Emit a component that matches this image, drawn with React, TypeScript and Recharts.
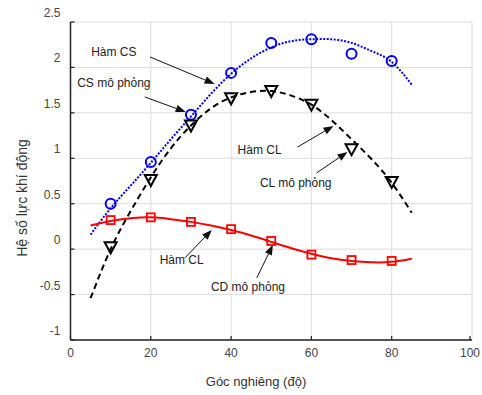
import { ComposedChart, Line, Scatter, XAxis, YAxis, CartesianGrid, ReferenceLine, ReferenceDot } from 'recharts';

const FONT = '"Liberation Sans", Arial, sans-serif';

// góc mô phỏng (điểm) và góc của đường hàm
const simAngles = [10, 20, 30, 40, 50, 60, 70, 80];
const fitAngles = [5, 10, 15, 20, 25, 30, 35, 40, 45, 50, 55, 60, 65, 70, 75, 80, 85];

// số liệu mô phỏng
const csSim = [0.5, 0.96, 1.48, 1.94, 2.27, 2.31, 2.15, 2.07];
const clSim = [0.02, 0.76, 1.36, 1.66, 1.74, 1.59, 1.1, 0.74];
const cdSim = [0.32, 0.35, 0.3, 0.22, 0.09, -0.06, -0.12, -0.13];

// đường hàm
const csFit = [0.16, 0.45, 0.7, 0.95, 1.21, 1.46, 1.71, 1.93, 2.1, 2.22, 2.29, 2.31, 2.31, 2.27, 2.18, 2.06, 1.81];
const clFit = [-0.54, 0.0, 0.42, 0.79, 1.11, 1.36, 1.55, 1.67, 1.73, 1.74, 1.69, 1.59, 1.42, 1.21, 0.99, 0.73, 0.4];
const cdFit = [0.26, 0.31, 0.34, 0.35, 0.33, 0.3, 0.26, 0.21, 0.15, 0.08, 0.01, -0.05, -0.1, -0.13, -0.145, -0.14, -0.105];

const xTicks = [0, 20, 40, 60, 80, 100];
const yTicks = [-1, -0.5, 0, 0.5, 1, 1.5, 2, 2.5];

// chú thích: vị trí chữ và mũi tên (toạ độ dữ liệu)
const notes = [
  { text: 'Hàm CS', x: 10.8, y: 2.17 },
  { text: 'CS mô phỏng', x: 10.8, y: 1.83 },
  { text: 'Hàm CL', x: 47.1, y: 1.09 },
  { text: 'CL mô phỏng', x: 56.1, y: 0.73 },
  { text: 'Hàm CL', x: 27.7, y: -0.12 },
  { text: 'CD mô phỏng', x: 44.2, y: -0.415 },
];
const arrows = [
  { from: [19.8, 2.115], to: [35.9, 1.818] },
  { from: [18.5, 1.675], to: [28.7, 1.51] },
  { from: [56.6, 1.125], to: [65.5, 1.356] },
  { from: [61.3, 0.839], to: [69.0, 1.07] },
  { from: [28.5, -0.096], to: [35.2, 0.212] },
  { from: [46.4, -0.316], to: [50.4, 0.047] },
];

const toPts = (xs: number[], ys: number[]) => xs.map((x, i) => ({ x, y: ys[i] }));

const Circle = (p: any) => <circle cx={p.cx} cy={p.cy} r={5} fill="none" stroke="#0000ff" strokeWidth={2} />;
const Square = (p: any) => <rect x={p.cx - 4} y={p.cy - 4} width={8} height={8} fill="none" stroke="#ff0000" strokeWidth={1.8} />;
const Tri = (p: any) => (
  <polygon
    points={`${p.cx - 6},${p.cy - 5} ${p.cx + 6},${p.cy - 5} ${p.cx},${p.cy + 6}`}
    fill="none"
    stroke="#000"
    strokeWidth={2}
    strokeLinejoin="miter"
  />
);

const Arrow = (p: any) => {
  const { x1, y1, x2, y2 } = p;
  const a = Math.atan2(y2 - y1, x2 - x1);
  const len = 10;
  const w = 3.8;
  const bx = x2 - len * Math.cos(a);
  const by = y2 - len * Math.sin(a);
  const nx = -Math.sin(a) * w;
  const ny = Math.cos(a) * w;
  return (
    <g>
      <line x1={x1} y1={y1} x2={bx} y2={by} stroke="#111" strokeWidth={1} />
      <polygon points={`${x2},${y2} ${bx + nx},${by + ny} ${bx - nx},${by - ny}`} fill="#111" />
    </g>
  );
};

const YTick = (p: any) => {
  const { x, y, payload } = p;
  return (
    <g>
      <line x1={x + 10} x2={x + 14} y1={y} y2={y} stroke="#222" strokeWidth={1.2} />
      <text x={x} y={y - 9} textAnchor="end" dominantBaseline="central" fontSize={12} fill="#444" fontFamily={FONT}>
        {payload.value}
      </text>
    </g>
  );
};

const XTick = (p: any) => {
  const { x, y, payload } = p;
  return (
    <g>
      <line x1={x} x2={x} y1={y} y2={y - 4} stroke="#222" strokeWidth={1.2} />
      <text x={x} y={y + 13} textAnchor="middle" dominantBaseline="central" fontSize={12} fill="#444" fontFamily={FONT}>
        {payload.value}
      </text>
    </g>
  );
};

export default function App() {
  return (
    <div style={{ position: 'absolute', left: 0, top: 0, background: '#fff' }}>
      <ComposedChart width={482} height={395} margin={{ top: 22, right: 10, bottom: 25, left: 0 }}>
        <CartesianGrid stroke="#dcdcdc" strokeWidth={1} />
        <XAxis
          type="number"
          dataKey="x"
          domain={[0, 100]}
          ticks={xTicks}
          tickSize={0}
          tickMargin={0}
          height={30}
          tick={<XTick />}
          stroke="#222"
          strokeWidth={1.5}
          label={{
            content: () => (
              <text x={256} y={381} textAnchor="middle" dominantBaseline="central" fontSize={13} fill="#333" fontFamily={FONT}>
                Góc nghiêng (độ)
              </text>
            ),
          }}
        />
        <YAxis
          type="number"
          domain={[-1, 2.5]}
          ticks={yTicks}
          width={70.5}
          tickSize={0}
          tickMargin={10}
          tick={<YTick />}
          stroke="#222"
          strokeWidth={1.5}
          label={{
            content: () => (
              <text x={22} y={198} transform="rotate(-90, 22, 198)" textAnchor="middle" dominantBaseline="central" fontSize={14} fill="#333" fontFamily={FONT}>
                Hệ số lực khí động
              </text>
            ),
          }}
        />
        <Line data={toPts(fitAngles, csFit)} dataKey="y" type="natural" stroke="#0000ff" strokeWidth={2} strokeDasharray="2 1.5" dot={false} isAnimationActive={false} />
        <Line data={toPts(fitAngles, clFit)} dataKey="y" type="natural" stroke="#000" strokeWidth={2} strokeDasharray="6 4" dot={false} isAnimationActive={false} />
        <Line data={toPts(fitAngles, cdFit)} dataKey="y" type="natural" stroke="#ff0000" strokeWidth={2} dot={false} isAnimationActive={false} />
        <Scatter data={toPts(simAngles, csSim)} dataKey="y" shape={<Circle />} isAnimationActive={false} />
        <Scatter data={toPts(simAngles, clSim)} dataKey="y" shape={<Tri />} isAnimationActive={false} />
        <Scatter data={toPts(simAngles, cdSim)} dataKey="y" shape={<Square />} isAnimationActive={false} />
        {arrows.map((a, i) => (
          <ReferenceLine
            key={`a${i}`}
            segment={[{ x: a.from[0], y: a.from[1] }, { x: a.to[0], y: a.to[1] }]}
            shape={<Arrow />}
          />
        ))}
        {notes.map((n, i) => (
          <ReferenceDot
            key={`n${i}`}
            x={n.x}
            y={n.y}
            r={0}
            shape={(p: any) => (
              <text x={p.cx} y={p.cy} textAnchor="middle" dominantBaseline="central" fontSize={12} fill="#222" fontFamily={FONT}>
                {n.text}
              </text>
            )}
          />
        ))}
      </ComposedChart>
    </div>
  );
}
